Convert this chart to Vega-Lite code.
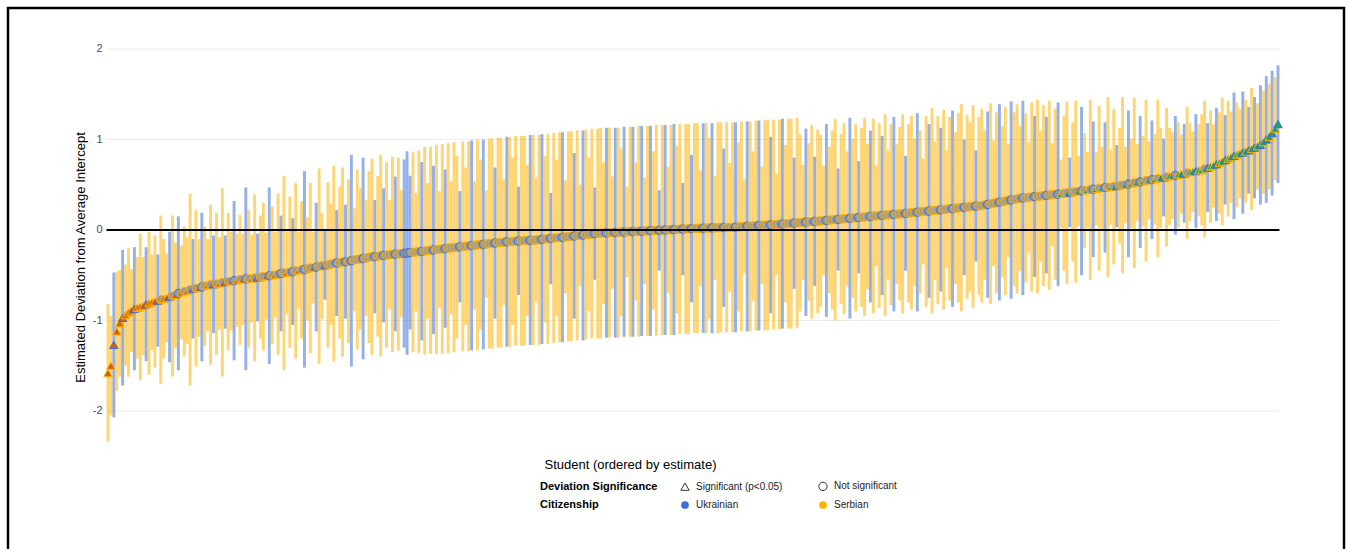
{
"$schema": "https://vega.github.io/schema/vega-lite/v6.json",
"width": 1336, "height": 543,
"autosize": {"type": "none"},
"padding": {"left": 8, "top": 8, "right": 4, "bottom": -2},
"background": "white",
"config": {"font": "Liberation Sans", "view": {"stroke": "#000000", "strokeWidth": 2.5}},
"datasets": {
"grid": [{"v": -2}, {"v": -1}, {"v": 1}, {"v": 2}],
"students": "i,e,lo,hi,c,g\n1,-1.58,-2.34,-0.82,S,L\n2,-1.50,-2.05,-0.95,S,L\n3,-1.27,-2.07,-0.47,U,L\n4,-1.12,-1.78,-0.46,S,L\n5,-1.03,-1.62,-0.44,S,L\n6,-0.97,-1.72,-0.22,U,L\n7,-0.94,-1.50,-0.38,S,L\n8,-0.91,-1.62,-0.20,S,L\n9,-0.89,-1.35,-0.43,S,L\n10,-0.87,-1.55,-0.19,U,L\n11,-0.86,-1.42,-0.30,S,L\n12,-0.85,-1.66,-0.04,S,L\n13,-0.84,-1.38,-0.30,S,L\n14,-0.82,-1.45,-0.19,U,L\n15,-0.81,-1.60,-0.02,S,L\n16,-0.80,-1.33,-0.27,S,L\n17,-0.79,-1.52,-0.06,S,L\n18,-0.78,-1.29,-0.27,U,L\n19,-0.77,-1.70,0.16,S,N\n20,-0.76,-1.42,-0.10,S,L\n21,-0.75,-1.24,-0.26,S,L\n22,-0.74,-1.46,-0.02,U,L\n23,-0.73,-1.62,0.16,S,N\n24,-0.72,-1.30,-0.14,S,L\n25,-0.70,-1.55,0.15,U,N\n26,-0.69,-1.21,-0.17,S,L\n27,-0.68,-1.40,0.04,S,N\n28,-0.67,-1.26,-0.08,S,L\n29,-0.66,-1.72,0.40,S,N\n30,-0.65,-1.20,-0.10,U,L\n31,-0.645,-1.51,0.22,S,N\n32,-0.64,-1.18,-0.10,S,L\n33,-0.63,-1.45,0.19,U,N\n34,-0.62,-1.28,0.04,S,N\n35,-0.61,-1.12,-0.10,S,L\n36,-0.605,-1.49,0.28,S,N\n37,-0.60,-1.14,-0.06,U,L\n38,-0.595,-1.38,0.19,S,N\n39,-0.59,-1.10,-0.08,S,L\n40,-0.58,-1.62,0.46,S,N\n41,-0.575,-1.09,-0.06,U,L\n42,-0.57,-1.33,0.19,S,N\n43,-0.565,-1.11,-0.02,S,L\n44,-0.56,-1.44,0.32,U,N\n45,-0.555,-1.07,-0.04,S,L\n46,-0.55,-1.27,0.17,S,N\n47,-0.545,-1.05,-0.04,S,L\n48,-0.54,-1.55,0.47,U,N\n49,-0.538,-1.30,0.22,S,N\n50,-0.535,-1.02,-0.05,S,L\n51,-0.53,-1.45,0.39,S,N\n52,-0.525,-1.01,-0.04,U,L\n53,-0.52,-1.20,0.16,S,N\n54,-0.515,-1.33,0.30,S,N\n55,-0.51,-0.99,-0.03,S,L\n56,-0.505,-1.48,0.47,U,N\n57,-0.50,-1.26,0.26,S,N\n58,-0.495,-0.97,-0.02,S,L\n59,-0.49,-1.38,0.40,S,N\n60,-0.48,-1.12,0.16,U,N\n61,-0.475,-1.55,0.60,S,N\n62,-0.47,-0.93,-0.01,S,L\n63,-0.465,-1.30,0.37,S,N\n64,-0.46,-1.05,0.13,U,N\n65,-0.45,-1.42,0.52,S,N\n66,-0.445,-0.87,-0.02,S,L\n67,-0.44,-1.20,0.32,S,N\n68,-0.435,-1.52,0.65,U,N\n69,-0.43,-1.00,0.14,S,N\n70,-0.42,-1.36,0.52,S,N\n71,-0.415,-0.81,-0.02,S,L\n72,-0.41,-1.12,0.30,U,N\n73,-0.40,-1.48,0.68,S,N\n74,-0.395,-0.98,0.19,S,N\n75,-0.39,-0.77,-0.01,U,L\n76,-0.385,-1.30,0.53,S,N\n77,-0.38,-1.05,0.29,S,N\n78,-0.37,-1.45,0.71,S,N\n79,-0.365,-0.95,0.22,U,N\n80,-0.36,-1.20,0.48,S,N\n81,-0.355,-1.40,0.69,S,N\n82,-0.35,-0.98,0.28,U,N\n83,-0.345,-1.25,0.56,S,N\n84,-0.34,-1.51,0.83,U,N\n85,-0.33,-0.90,0.24,S,N\n86,-0.325,-1.32,0.67,S,N\n87,-0.32,-1.10,0.46,S,N\n88,-0.315,-1.43,0.80,U,N\n89,-0.31,-0.95,0.33,S,N\n90,-0.30,-1.25,0.65,S,N\n91,-0.297,-1.38,0.79,S,N\n92,-0.294,-0.92,0.33,U,N\n93,-0.29,-1.18,0.60,S,N\n94,-0.285,-1.40,0.83,S,N\n95,-0.28,-1.02,0.46,U,N\n96,-0.277,-1.30,0.75,S,N\n97,-0.274,-0.88,0.33,S,N\n98,-0.27,-1.35,0.81,S,N\n99,-0.267,-1.12,0.59,U,N\n100,-0.265,-1.33,0.80,S,N\n101,-0.262,-0.96,0.44,S,N\n102,-0.258,-1.30,0.78,U,N\n103,-0.254,-1.38,0.87,U,N\n104,-0.25,-1.10,0.60,U,N\n105,-0.247,-1.35,0.86,S,N\n106,-0.243,-0.90,0.41,S,N\n107,-0.24,-1.36,0.88,S,N\n108,-0.236,-1.22,0.75,U,N\n109,-0.232,-1.38,0.92,S,N\n110,-0.228,-0.98,0.52,S,N\n111,-0.225,-1.37,0.92,S,N\n112,-0.221,-1.15,0.71,U,N\n113,-0.217,-1.37,0.94,S,N\n114,-0.213,-0.86,0.43,S,N\n115,-0.21,-1.37,0.95,S,N\n116,-0.206,-1.08,0.67,U,N\n117,-0.20,-1.36,0.96,S,N\n118,-0.197,-0.93,0.54,S,N\n119,-0.193,-1.35,0.97,S,N\n120,-0.19,-1.20,0.82,S,N\n121,-0.186,-0.80,0.43,U,N\n122,-0.183,-1.34,0.98,S,N\n123,-0.179,-1.05,0.69,S,N\n124,-0.176,-1.34,0.98,S,N\n125,-0.172,-1.33,0.99,U,N\n126,-0.169,-0.88,0.54,S,N\n127,-0.165,-1.33,1.00,S,N\n128,-0.162,-1.10,0.78,S,N\n129,-0.158,-1.32,1.00,U,N\n130,-0.155,-0.75,0.44,S,N\n131,-0.151,-1.31,1.01,S,N\n132,-0.148,-1.31,1.01,S,N\n133,-0.144,-0.98,0.69,U,N\n134,-0.141,-1.30,1.02,S,N\n135,-0.137,-1.30,1.02,S,N\n136,-0.134,-0.83,0.56,S,N\n137,-0.13,-1.29,1.03,U,N\n138,-0.128,-1.29,1.03,S,N\n139,-0.126,-1.05,0.80,S,N\n140,-0.124,-1.28,1.04,S,N\n141,-0.122,-0.72,0.48,U,N\n142,-0.12,-1.28,1.04,S,N\n143,-0.118,-1.28,1.04,S,N\n144,-0.116,-0.95,0.72,S,N\n145,-0.114,-1.27,1.05,U,N\n146,-0.112,-1.27,1.05,S,N\n147,-0.11,-0.80,0.58,S,N\n148,-0.107,-1.27,1.05,S,N\n149,-0.103,-1.26,1.06,U,N\n150,-0.10,-1.02,0.82,S,N\n151,-0.097,-1.26,1.06,S,N\n152,-0.093,-0.60,0.41,U,N\n153,-0.09,-1.25,1.07,S,N\n154,-0.087,-0.95,0.78,S,N\n155,-0.084,-1.24,1.08,S,N\n156,-0.08,-1.24,1.08,U,N\n157,-0.077,-0.70,0.55,S,N\n158,-0.074,-1.23,1.09,S,N\n159,-0.07,-1.23,1.09,S,N\n160,-0.067,-0.98,0.85,U,N\n161,-0.063,-1.22,1.10,S,N\n162,-0.059,-0.62,0.50,S,N\n163,-0.056,-1.22,1.10,U,N\n164,-0.052,-1.21,1.11,S,N\n165,-0.048,-0.90,0.80,S,N\n166,-0.044,-1.20,1.12,S,N\n167,-0.041,-0.55,0.47,U,N\n168,-0.037,-1.20,1.12,S,N\n169,-0.035,-1.20,1.13,S,N\n170,-0.034,-0.82,0.75,S,N\n171,-0.032,-1.19,1.13,U,N\n172,-0.031,-1.19,1.13,S,N\n173,-0.029,-0.65,0.59,S,N\n174,-0.027,-1.19,1.13,U,N\n175,-0.026,-1.19,1.13,S,N\n176,-0.024,-0.95,0.90,S,N\n177,-0.023,-1.18,1.14,U,N\n178,-0.021,-0.52,0.48,S,N\n179,-0.02,-1.18,1.14,S,N\n180,-0.018,-1.18,1.14,U,N\n181,-0.016,-0.78,0.75,S,N\n182,-0.015,-1.18,1.15,S,N\n183,-0.013,-1.17,1.15,U,N\n184,-0.011,-0.60,0.58,S,N\n185,-0.01,-1.17,1.15,S,N\n186,-0.008,-1.17,1.15,U,N\n187,-0.006,-0.88,0.87,S,N\n188,-0.005,-1.17,1.16,S,N\n189,-0.003,-0.45,0.44,U,N\n190,-0.002,-1.16,1.16,S,N\n191,0,-1.16,1.16,U,N\n192,0.002,-0.70,0.70,S,N\n193,0.003,-1.16,1.16,S,N\n194,0.005,-1.16,1.17,U,N\n195,0.006,-0.92,0.93,S,N\n196,0.008,-1.15,1.17,S,N\n197,0.01,-0.50,0.52,U,N\n198,0.011,-1.15,1.17,S,N\n199,0.013,-1.15,1.17,S,N\n200,0.015,-0.80,0.83,U,N\n201,0.016,-1.14,1.18,S,N\n202,0.018,-1.14,1.18,S,N\n203,0.019,-0.62,0.66,S,N\n204,0.02,-1.14,1.18,U,N\n205,0.021,-1.14,1.18,S,N\n206,0.022,-0.98,1.02,S,N\n207,0.023,-1.14,1.18,U,N\n208,0.024,-0.55,0.60,S,N\n209,0.025,-1.14,1.19,S,N\n210,0.026,-1.13,1.19,S,N\n211,0.027,-0.85,0.90,U,N\n212,0.028,-1.13,1.19,S,N\n213,0.029,-0.68,0.74,S,N\n214,0.03,-1.13,1.19,S,N\n215,0.032,-1.13,1.19,U,N\n216,0.034,-0.90,0.97,S,N\n217,0.037,-1.12,1.20,S,N\n218,0.039,-0.48,0.56,S,N\n219,0.041,-1.12,1.20,U,N\n220,0.043,-1.12,1.20,S,N\n221,0.046,-0.78,0.87,S,N\n222,0.048,-1.11,1.21,S,N\n223,0.05,-1.11,1.21,U,N\n224,0.052,-0.60,0.70,S,N\n225,0.054,-1.11,1.21,S,N\n226,0.055,-1.11,1.22,S,N\n227,0.057,-0.92,1.03,U,N\n228,0.059,-1.10,1.22,S,N\n229,0.061,-0.50,0.62,S,N\n230,0.063,-1.10,1.22,S,N\n231,0.066,-1.09,1.23,U,N\n232,0.068,-0.80,0.94,S,N\n233,0.071,-1.09,1.23,S,N\n234,0.074,-1.09,1.23,S,N\n235,0.076,-0.65,0.80,U,N\n236,0.079,-1.08,1.24,S,N\n237,0.082,-0.90,1.06,S,N\n238,0.084,-0.55,0.72,S,N\n239,0.087,-0.95,1.12,U,N\n240,0.089,-0.78,0.96,S,N\n241,0.092,-0.98,1.16,S,N\n242,0.095,-0.62,0.81,U,N\n243,0.097,-0.92,1.11,S,N\n244,0.10,-0.85,1.05,S,N\n245,0.103,-0.50,0.71,S,N\n246,0.106,-0.96,1.17,U,N\n247,0.109,-0.70,0.92,S,N\n248,0.112,-0.88,1.10,S,N\n249,0.115,-1.00,1.23,S,N\n250,0.117,-0.45,0.68,U,N\n251,0.12,-0.82,1.06,S,N\n252,0.123,-0.93,1.18,S,N\n253,0.126,-0.62,0.87,S,N\n254,0.129,-0.98,1.24,U,N\n255,0.132,-0.75,1.01,S,N\n256,0.135,-0.90,1.17,S,N\n257,0.138,-0.48,0.76,U,N\n258,0.141,-0.85,1.13,S,N\n259,0.144,-0.95,1.24,S,N\n260,0.147,-0.66,0.95,S,N\n261,0.15,-0.80,1.10,U,N\n262,0.153,-0.92,1.23,S,N\n263,0.156,-0.40,0.71,S,N\n264,0.159,-0.86,1.18,S,N\n265,0.161,-0.72,1.04,U,N\n266,0.164,-0.95,1.28,S,N\n267,0.167,-0.55,0.88,S,N\n268,0.17,-0.83,1.17,S,N\n269,0.173,-0.90,1.25,U,N\n270,0.175,-0.60,0.95,S,N\n271,0.178,-0.78,1.14,S,N\n272,0.181,-0.92,1.28,S,N\n273,0.184,-0.45,0.82,U,N\n274,0.187,-0.80,1.17,S,N\n275,0.191,-0.88,1.26,S,N\n276,0.194,-0.62,1.01,S,N\n277,0.197,-0.90,1.29,U,N\n278,0.20,-0.70,1.10,S,N\n279,0.204,-0.38,0.79,S,N\n280,0.207,-0.85,1.26,S,N\n281,0.21,-0.75,1.17,U,N\n282,0.213,-0.92,1.35,S,N\n283,0.216,-0.55,0.98,S,N\n284,0.22,-0.82,1.26,S,N\n285,0.223,-0.68,1.13,U,N\n286,0.227,-0.88,1.33,S,N\n287,0.23,-0.42,0.88,S,N\n288,0.233,-0.78,1.25,S,N\n289,0.237,-0.85,1.32,U,N\n290,0.24,-0.60,1.08,S,N\n291,0.243,-0.80,1.29,S,N\n292,0.247,-0.90,1.39,S,N\n293,0.25,-0.50,1.00,U,N\n294,0.253,-0.76,1.27,S,N\n295,0.257,-0.68,1.19,S,N\n296,0.26,-0.86,1.38,S,N\n297,0.263,-0.35,0.88,U,N\n298,0.267,-0.72,1.25,S,N\n299,0.27,-0.80,1.34,S,N\n300,0.276,-0.55,1.10,S,N\n301,0.282,-0.75,1.31,U,N\n302,0.289,-0.82,1.40,S,N\n303,0.295,-0.40,0.99,S,N\n304,0.301,-0.70,1.30,S,N\n305,0.307,-0.78,1.39,U,N\n306,0.313,-0.52,1.15,S,N\n307,0.32,-0.72,1.36,S,N\n308,0.326,-0.30,0.95,S,N\n309,0.332,-0.76,1.42,U,N\n310,0.338,-0.62,1.30,S,N\n311,0.344,-0.70,1.39,S,N\n312,0.35,-0.45,1.15,S,N\n313,0.354,-0.72,1.43,U,N\n314,0.357,-0.58,1.29,S,N\n315,0.361,-0.25,0.97,S,N\n316,0.364,-0.68,1.41,S,N\n317,0.368,-0.52,1.26,U,N\n318,0.371,-0.70,1.44,S,N\n319,0.375,-0.35,1.10,S,N\n320,0.379,-0.62,1.38,S,N\n321,0.382,-0.48,1.25,U,N\n322,0.386,-0.66,1.43,S,N\n323,0.389,-0.18,0.96,S,N\n324,0.393,-0.55,1.34,S,N\n325,0.396,-0.62,1.41,U,N\n326,0.40,0.02,0.78,S,R\n327,0.405,-0.45,1.26,S,N\n328,0.409,-0.60,1.42,S,N\n329,0.414,0.03,0.80,U,R\n330,0.418,-0.35,1.19,S,N\n331,0.423,-0.58,1.43,S,N\n332,0.428,0.04,0.82,S,R\n333,0.432,-0.50,1.36,U,N\n334,0.437,-0.20,1.07,S,N\n335,0.442,0.02,0.86,S,R\n336,0.446,-0.55,1.44,S,N\n337,0.451,-0.30,1.20,U,N\n338,0.455,0.05,0.86,S,R\n339,0.46,-0.45,1.37,S,N\n340,0.464,0.01,0.92,S,R\n341,0.469,-0.25,1.19,U,N\n342,0.473,-0.52,1.47,S,N\n343,0.477,0.06,0.89,S,R\n344,0.481,-0.38,1.34,S,N\n345,0.486,0.03,0.94,U,R\n346,0.49,-0.15,1.13,S,N\n347,0.496,-0.48,1.47,S,N\n348,0.502,0.08,0.92,S,R\n349,0.508,-0.30,1.32,U,N\n350,0.514,0.02,1.01,S,R\n351,0.52,-0.42,1.46,S,N\n352,0.526,0.10,0.95,S,R\n353,0.532,-0.20,1.26,U,N\n354,0.538,0.04,1.04,S,R\n355,0.544,-0.35,1.44,S,N\n356,0.55,0.12,0.98,S,R\n357,0.556,-0.10,1.21,U,N\n358,0.562,0.06,1.06,S,R\n359,0.568,-0.30,1.44,S,N\n360,0.574,0.02,1.13,S,R\n361,0.58,0.15,1.01,U,R\n362,0.586,-0.18,1.35,S,N\n363,0.592,0.05,1.13,S,R\n364,0.598,0.12,1.08,S,R\n365,0.604,-0.05,1.26,U,N\n366,0.61,0.03,1.19,S,R\n367,0.617,0.18,1.05,S,R\n368,0.624,0.08,1.17,U,R\n369,0.631,-0.10,1.36,S,N\n370,0.638,0.10,1.18,S,R\n371,0.644,0.20,1.09,S,R\n372,0.651,0.02,1.28,U,R\n373,0.658,0.15,1.17,S,R\n374,0.665,0.05,1.28,S,R\n375,0.676,-0.08,1.43,S,N\n376,0.688,0.20,1.18,U,R\n377,0.699,0.08,1.32,S,R\n378,0.71,0.25,1.17,S,R\n379,0.726,0.10,1.35,U,R\n380,0.741,0.18,1.30,S,R\n381,0.757,0.05,1.46,S,R\n382,0.773,0.28,1.27,U,R\n383,0.789,0.15,1.43,S,R\n384,0.804,0.30,1.31,S,R\n385,0.82,0.12,1.52,U,R\n386,0.832,0.25,1.41,S,R\n387,0.844,0.35,1.34,S,R\n388,0.856,0.18,1.53,U,R\n389,0.868,0.30,1.44,S,R\n390,0.88,0.40,1.36,U,R\n391,0.895,0.22,1.57,S,R\n392,0.91,0.35,1.47,U,R\n393,0.925,0.45,1.40,S,R\n394,0.94,0.28,1.60,U,R\n395,0.97,0.40,1.54,S,R\n396,1.00,0.30,1.70,U,R\n397,1.03,0.45,1.61,S,R\n398,1.07,0.38,1.76,U,R\n399,1.12,0.55,1.69,S,R\n400,1.17,0.52,1.82,U,R"
},
"data": {"name": "students", "format": {"type": "csv", "parse": {"i": "number", "e": "number", "lo": "number", "hi": "number"}}},
"layer": [
 {"data": {"name": "grid"},
  "mark": {"type": "rule", "color": "#ebebeb", "strokeWidth": 1},
  "encoding": {
   "y": {"field": "v", "type": "quantitative"},
   "x": {"datum": 0.5, "type": "quantitative"},
   "x2": {"datum": 400.5}
  }},
 {"mark": {"type": "rule", "strokeWidth": 2.9, "opacity": 0.55},
  "encoding": {
   "x": {"field": "i", "type": "quantitative", "scale": {"domain": [-33.1, 422.51], "nice": false, "zero": false},
         "axis": {"title": "Student (ordered by estimate)", "labels": false, "ticks": false, "domain": false, "grid": false, "titleFontSize": 13, "titleFontWeight": "normal", "titleColor": "#000000", "titleX": 622, "titleY": -83, "titleBaseline": "alphabetic", "titleAlign": "center"}},
   "y": {"field": "lo", "type": "quantitative", "scale": {"domain": [-3.547, 2.453], "nice": false, "zero": false},
         "axis": {"title": "Estimated Deviation from Average Intercept", "values": [-2, -1, 0, 1, 2], "labelExpr": "'' + datum.value", "grid": false, "domain": false, "ticks": false, "offset": -100, "labelFontSize": 11, "labelColor": "#4d4d4d", "labelPadding": 6, "titleFontSize": 13, "titleFontWeight": "normal", "titleColor": "#000000", "titleX": -21, "titleY": 249, "titleAngle": -90, "titleAlign": "center", "titleBaseline": "bottom"}},
   "y2": {"field": "hi"},
   "stroke": {"field": "c", "type": "nominal", "scale": {"domain": ["S", "U"], "range": ["#ffb000", "#3d6fd6"]}, "legend": null}
  }},
 {"mark": {"type": "point", "filled": true, "size": 70, "strokeWidth": 1, "opacity": 1},
  "encoding": {
   "x": {"field": "i", "type": "quantitative"},
   "y": {"field": "e", "type": "quantitative"},
   "shape": {"field": "g", "type": "nominal", "scale": {"domain": ["L", "R", "N"], "range": ["triangle-up", "triangle-up", "circle"]},
             "legend": {"title": "Deviation Significance", "values": ["L", "N"], "orient": "none", "legendX": 532, "legendY": 473, "direction": "horizontal", "titleOrient": "left", "titleFontSize": 11, "titleFontWeight": "bold", "titleColor": "#000000", "titlePadding": 22, "columnPadding": 33, "labelFontSize": 10, "labelColor": "#222222", "labelOffset": 6, "symbolSize": 70, "symbolFillColor": "transparent", "symbolStrokeColor": "#333333", "symbolStrokeWidth": 1, "symbolOpacity": 1, "labelExpr": "datum.label === 'N' ? 'Not significant' : 'Significant (p<0.05)'"}},
   "stroke": {"field": "c", "type": "nominal", "legend": null},
   "fill": {"field": "g", "type": "nominal", "scale": {"domain": ["N", "L", "R"], "range": ["#9a9a9a", "#d95f02", "#1b9e77"]}, "legend": null}
  }},
 {"mark": {"type": "point", "filled": true, "size": 60, "opacity": 0},
  "encoding": {
   "x": {"field": "i", "type": "quantitative"},
   "y": {"field": "e", "type": "quantitative"},
   "color": {"field": "c", "type": "nominal", "scale": {"domain": ["U", "S"], "range": ["#3d6fd6", "#ffb000"]},
             "legend": {"title": "Citizenship", "orient": "none", "legendX": 532, "legendY": 492, "direction": "horizontal", "titleOrient": "left", "titleFontSize": 11, "titleFontWeight": "bold", "titleColor": "#000000", "titlePadding": 81, "columnPadding": 79, "labelFontSize": 10, "labelColor": "#222222", "labelOffset": 6, "symbolType": "circle", "symbolSize": 60, "symbolOpacity": 1, "labelExpr": "datum.label === 'U' ? 'Ukrainian' : 'Serbian'"}}
  }},
 {"data": {"values": [{"v": 0}]},
  "mark": {"type": "rule", "color": "#000000", "strokeWidth": 2},
  "encoding": {
   "y": {"field": "v", "type": "quantitative"},
   "x": {"datum": 0.5, "type": "quantitative"},
   "x2": {"datum": 400.5}
  }}
]
}
